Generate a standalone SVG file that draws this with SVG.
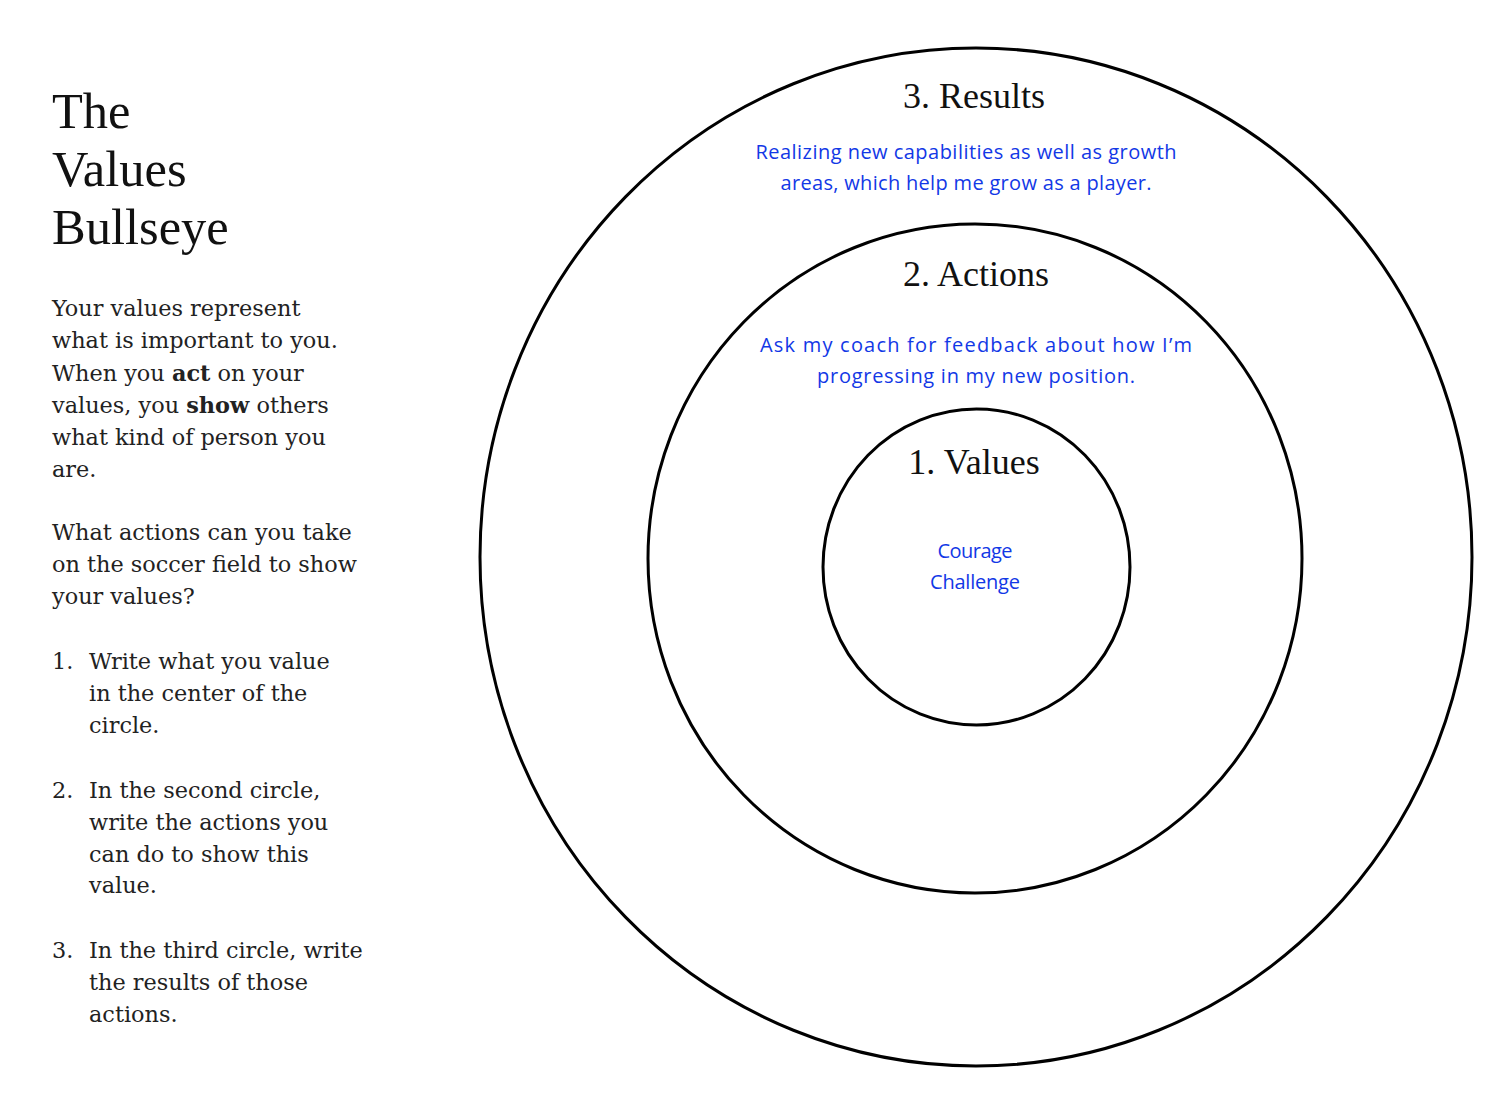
<svg xmlns="http://www.w3.org/2000/svg" width="1504" height="1096" viewBox="0 0 1504 1096">
<style>
.ring{fill:none;stroke:#000;stroke-width:3}
.title{font-family:"Liberation Serif",serif;font-size:50.5px;fill:#111}
.body{font-family:"DejaVu Serif",serif;font-size:22.4px;fill:#222}
.lbl{font-family:"Liberation Serif",serif;font-size:36px;fill:#111;text-anchor:middle}
.hand{font-family:"Open Sans","Noto Sans",sans-serif;font-size:20px;fill:#1238e6;text-anchor:middle}
</style>
<rect width="1504" height="1096" fill="#fff"/>
<g id="sidebar">
<text class="title" x="52" y="128">The</text>
<text class="title" x="52" y="186">Values</text>
<text class="title" x="52" y="244">Bullseye</text>
<text class="body" x="52" y="316">Your values represent</text>
<text class="body" x="52" y="348">what is important to you.</text>
<text class="body" x="52" y="381">When you <tspan font-weight="bold">act</tspan> on your</text>
<text class="body" x="52" y="413">values, you <tspan font-weight="bold">show</tspan> others</text>
<text class="body" x="52" y="445">what kind of person you</text>
<text class="body" x="52" y="477">are.</text>
<text class="body" x="52" y="540">What actions can you take</text>
<text class="body" x="52" y="572">on the soccer field to show</text>
<text class="body" x="52" y="604">your values?</text>
<text class="body" x="52" y="669">1.</text>
<text class="body" x="89" y="669">Write what you value</text>
<text class="body" x="89" y="701">in the center of the</text>
<text class="body" x="89" y="733">circle.</text>
<text class="body" x="52" y="798">2.</text>
<text class="body" x="89" y="798">In the second circle,</text>
<text class="body" x="89" y="830">write the actions you</text>
<text class="body" x="89" y="862">can do to show this</text>
<text class="body" x="89" y="893">value.</text>
<text class="body" x="52" y="958">3.</text>
<text class="body" x="89" y="958">In the third circle, write</text>
<text class="body" x="89" y="990">the results of those</text>
<text class="body" x="89" y="1022">actions.</text>
</g>
<g id="results">
<ellipse class="ring" cx="976" cy="557" rx="496" ry="509"/>
<text class="lbl" x="974" y="108">3. Results</text>
<text class="hand" x="966" y="159" textLength="421" lengthAdjust="spacing">Realizing new capabilities as well as growth</text>
<text class="hand" x="966" y="190" textLength="371" lengthAdjust="spacing">areas, which help me grow as a player.</text>
</g>
<g id="actions">
<ellipse class="ring" cx="975" cy="558.5" rx="327" ry="334.5"/>
<text class="lbl" x="976" y="286">2. Actions</text>
<text class="hand" x="976" y="352" textLength="432" lengthAdjust="spacing">Ask my coach for feedback about how I’m</text>
<text class="hand" x="976" y="383" textLength="318" lengthAdjust="spacing">progressing in my new position.</text>
</g>
<g id="values">
<ellipse class="ring" cx="976.5" cy="567" rx="153.5" ry="158"/>
<text class="lbl" x="974" y="474">1. Values</text>
<text class="hand" x="975" y="558" textLength="75" lengthAdjust="spacing">Courage</text>
<text class="hand" x="975" y="589" textLength="90" lengthAdjust="spacing">Challenge</text>
</g>
<g id="connectors"/>
</svg>
